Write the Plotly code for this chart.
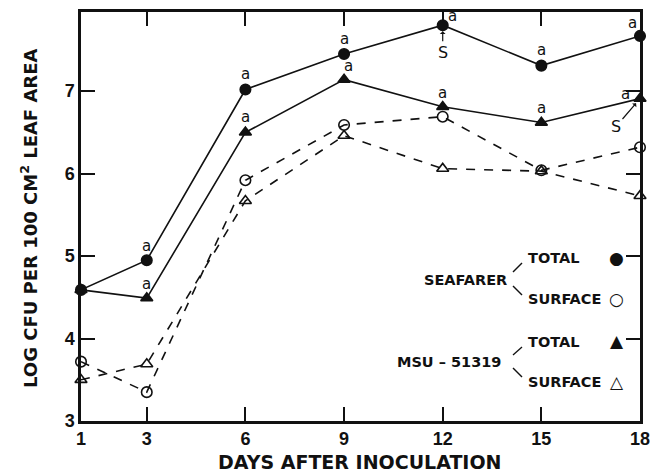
import plotly.graph_objects as go

days = [1, 3, 6, 9, 12, 15, 18]
seafarer_total = [4.59, 4.95, 7.02, 7.45, 7.80, 7.31, 7.67]
seafarer_surface = [3.72, 3.35, 5.92, 6.59, 6.69, 6.04, 6.32]
msu_total = [4.59, 4.49, 6.50, 7.14, 6.81, 6.62, 6.91]
msu_surface = [3.50, 3.69, 5.67, 6.46, 6.06, 6.03, 5.73]

x_ticks = [1, 3, 6, 9, 12, 15, 18]
y_ticks = [3, 4, 5, 6, 7]

FONT = "DejaVu Sans"
TICKFONT = "Liberation Sans"
BLACK = "#111111"

# plot box in page pixels
L, R, T, B = 81, 640, 12, 421
W, H = 650, 473

fig = go.Figure()

def add_series(y, symbol, dash):
    fig.add_trace(go.Scatter(
        x=days, y=y, mode="lines+markers",
        line=dict(color=BLACK, width=1.6, dash=dash),
        marker=dict(symbol=symbol, size=10.5, color=BLACK,
                    line=dict(color=BLACK, width=1.6)),
        cliponaxis=False, showlegend=False,
    ))

add_series(seafarer_surface, "circle-open", "dash")
add_series(msu_surface, "triangle-up-open", "dash")
add_series(msu_total, "triangle-up", "solid")
add_series(seafarer_total, "circle", "solid")

annotations = []

# significance letters "a"
a_seaf = {3: (0, 14), 6: (0, 16), 9: (0, 15), 12: (10, 9), 15: (0, 16), 18: (-8, 13)}
a_msu = {3: (0, 14), 6: (0, 15), 9: (4, 14), 12: (0, 14), 15: (0, 15), 18: (-15, 5)}
for series, offs in ((seafarer_total, a_seaf), (msu_total, a_msu)):
    for d, (dx, dy) in offs.items():
        annotations.append(dict(
            x=d, y=series[days.index(d)], text="a", showarrow=False,
            xshift=dx, yshift=dy, font=dict(family=FONT, size=15, color=BLACK),
        ))

# "S" arrows
annotations.append(dict(
    x=12, y=seafarer_total[days.index(12)], text="S", showarrow=True,
    ax=0, ay=27, arrowhead=1, arrowsize=0.8, arrowwidth=1.2, standoff=6,
    arrowcolor=BLACK, font=dict(family=FONT, size=16, color=BLACK),
))
annotations.append(dict(
    x=18, y=msu_total[days.index(18)], text="S", showarrow=True,
    ax=-24, ay=28, arrowhead=1, arrowsize=0.8, arrowwidth=1.2, standoff=6,
    arrowcolor=BLACK, font=dict(family=FONT, size=16, color=BLACK),
))

def px(x):
    return (x - L) / (R - L)
def py(y):
    return (B - y) / (B - T)

legend_font = dict(family=FONT, size=14.5, color=BLACK, weight="bold")
def txt(x, y, s, anchor, font=legend_font, angle=0):
    annotations.append(dict(x=px(x), y=py(y), xref="paper", yref="paper",
                            text=s, showarrow=False, xanchor=anchor,
                            yanchor="middle", font=font, textangle=angle))

txt(509, 280, "SEAFARER", "right")
txt(526, 258, "TOTAL", "left")
txt(526, 299, "SURFACE", "left")
txt(503, 362, "MSU – 51319", "right")
txt(526, 342, "TOTAL", "left")
txt(526, 382, "SURFACE", "left")

sym_font = dict(family=FONT, size=17, color=BLACK)
for (x, y, s) in [(616, 258, "●"), (616, 299, "○"), (617, 341, "▲"), (617, 382, "△")]:
    txt(x, y, s, "center", font=sym_font)

# axis titles
title_font = dict(family=FONT, size=19, color=BLACK, weight="bold")
txt(360, 462, "DAYS AFTER INOCULATION", "center", font=title_font)
txt(29, 218, "LOG CFU PER 100 CM<sup>2</sup> LEAF AREA", "center",
    font=dict(family=FONT, size=18, color=BLACK, weight="bold"), angle=-90)

shapes = []
for (x0, y0, x1, y1) in [(513, 272, 522, 263), (513, 286, 522, 295),
                         (513, 355, 522, 347), (513, 368, 522, 377)]:
    shapes.append(dict(type="line", xref="paper", yref="paper",
                       x0=px(x0), y0=py(y0), x1=px(x1), y1=py(y1),
                       line=dict(color=BLACK, width=1.4)))

axis_common = dict(
    showgrid=False, zeroline=False, showline=True, linecolor=BLACK,
    linewidth=2.5, mirror="ticks", ticks="inside", ticklen=14,
    tickwidth=2.2, tickcolor=BLACK, ticklabeloverflow="allow",
    automargin=False,
    tickfont=dict(family=TICKFONT, size=18, color=BLACK, weight="bold"),
)

fig.update_layout(
    width=W, height=H,
    margin=dict(l=L, r=W - R, t=T, b=H - B, autoexpand=False),
    paper_bgcolor="white", plot_bgcolor="white",
    xaxis=dict(range=[1, 18], tickmode="array", tickvals=x_ticks,
               ticktext=[str(v) for v in x_ticks], **axis_common),
    yaxis=dict(range=[3, 7.96], tickmode="array", tickvals=y_ticks,
               ticktext=[str(v) for v in y_ticks], **axis_common),
    annotations=annotations, shapes=shapes,
)

fig.write_html(
    "out.html",
    config={"displayModeBar": False},
    post_script="document.body.style.margin='0';document.body.style.overflow='hidden';",
)
